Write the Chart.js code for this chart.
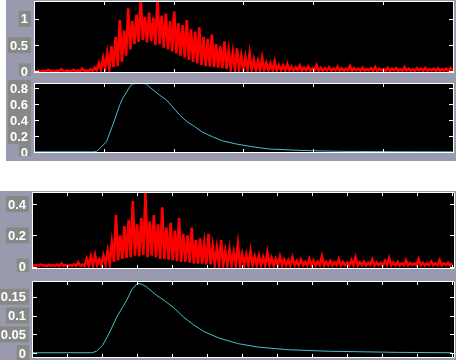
<!DOCTYPE html>
<html>
<head>
<meta charset="utf-8">
<script src="https://cdn.jsdelivr.net/npm/chart.js@4/dist/chart.umd.min.js"></script>
<style>
  html, body { margin: 0; padding: 0; background: #ffffff; }
  #wrap { position: relative; width: 456px; height: 360px; overflow: hidden; background: #ffffff; }
  .bg { position: absolute; background: #9a9aae; }
  canvas { position: absolute; left: 0; }
</style>
</head>
<body>
<div id="wrap">
  <div class="bg" style="left:6px;top:0;width:450px;height:161px"></div>
  <div class="bg" style="left:0;top:191px;width:456px;height:169px"></div>
  <canvas id="c1" width="456" height="76" style="top:0"></canvas>
  <canvas id="c2" width="456" height="78" style="top:78px"></canvas>
  <canvas id="c3" width="456" height="86" style="top:186px"></canvas>
  <canvas id="c4" width="456" height="86" style="top:274px"></canvas>
</div>
<script>
// ---- data ----
const sampleStep = 3; // x spacing of the raw noisy samples

const signalTop = [
0.01,0.00,0.02,0.00,0.01,0.00,0.01,0.03,0.00,0.01,0.00,0.02,0.00,0.04,0.01,0.00,0.02,0.00,0.01,0.03,
0.00,0.02,0.00,0.05,0.01,0.02,0.00,0.04,0.01,0.07,0.02,
0.16,0.03,0.25,0.05,0.34,0.04,0.48,0.08,0.66,0.10,0.98,0.18,0.78,0.30,1.20,0.42,0.96,0.52,1.08,
0.56,1.38,0.60,1.04,0.55,1.12,0.58,1.02,0.50,1.42,0.52,1.06,0.45,1.10,0.42,0.96,0.38,1.14,0.34,0.92,
0.30,0.88,0.26,0.98,0.22,0.80,0.18,0.76,0.15,0.84,0.12,0.66,0.10,0.62,0.09,0.70,0.08,0.52,0.07,0.48,
0.06,0.57,0.05,0.40,0.05,0.36,0.04,0.44,0.04,0.30,0.03,0.27,0.03,0.34,0.03,0.22,0.02,0.20,0.02,0.26,
0.02,0.16,0.02,0.15,0.02,0.19,0.01,0.12,0.02,0.11,0.01,
0.14,0.02,0.09,0.01,0.08,0.02,0.11,0.01,0.07,0.02,0.09,0.01,0.06,0.02,0.12,0.01,0.07,0.01,0.06,0.02,
0.08,0.01,0.05,0.02,0.09,0.01,0.06,0.01,0.05,0.02,0.10,0.01,0.06,0.02,0.05,0.01,0.07,0.01,0.04,0.02,
0.06,0.01,0.08,0.01,0.05,0.02,0.04,0.01,0.07,0.01,0.05,0.02,0.06,0.01,0.04,0.01,0.08,0.02,0.05,0.01,
0.04,0.01,0.06,0.02,0.05,0.01,0.07,0.01,0.04,0.02,0.05,0.01,0.06,0.01,0.04,0.02,0.05,0.01,0.06,0.02
];

const meanTopX = [0,40,84,90,94,104,113,123,127,137,141,151,161,166,180,190,199,209,219,230,241,256,270,290,313,337,370,399,447,523,600];
const meanTopY = [0.003,0.003,0.003,0.01,0.04,0.13,0.34,0.59,0.67,0.81,0.85,0.86,0.85,0.81,0.71,0.65,0.56,0.46,0.38,0.32,0.25,0.19,0.14,0.10,0.066,0.038,0.025,0.016,0.008,0.004,0.003];

const signalBottom = [
0.012,0.006,0.010,0.005,0.014,0.006,0.009,0.004,0.012,0.006,0.010,0.005,0.013,0.004,0.020,0.006,0.011,0.005,0.010,0.006,
0.015,0.005,0.028,0.006,0.012,0.005,0.050,0.007,0.065,0.008,
0.075,0.010,0.045,0.012,0.070,0.015,0.100,0.020,0.150,0.030,0.330,0.040,0.200,0.050,0.260,0.055,0.300,0.060,0.420,0.070,
0.270,0.065,0.310,0.075,0.470,0.060,0.290,0.070,0.330,0.060,0.270,0.050,0.380,0.050,0.250,0.045,0.280,0.040,0.230,0.035,
0.310,0.030,0.210,0.030,0.200,0.025,0.250,0.020,0.170,0.020,0.180,0.020,0.150,0.015,0.210,0.015,0.130,0.015,0.120,0.012,
0.170,0.012,0.100,0.010,0.110,0.010,0.090,0.010,0.140,0.010,0.080,0.010,0.075,0.010,0.100,0.010,0.065,0.008,0.070,0.010,
0.060,0.008,0.090,0.010,0.055,0.008,0.050,0.010,0.065,0.008,
0.045,0.010,0.040,0.008,0.060,0.010,0.035,0.008,0.045,0.010,0.030,0.008,0.050,0.010,0.038,0.008,0.032,0.010,0.065,0.008,
0.030,0.010,0.036,0.008,0.028,0.010,0.048,0.008,0.030,0.010,0.026,0.008,0.040,0.010,0.060,0.008,0.028,0.010,0.032,0.008,
0.025,0.010,0.045,0.008,0.027,0.010,0.024,0.008,0.035,0.010,0.055,0.008,0.026,0.010,0.030,0.008,0.022,0.010,0.040,0.008,
0.024,0.010,0.021,0.008,0.048,0.010,0.025,0.008,0.020,0.010,0.032,0.008,0.022,0.010,0.042,0.008,0.020,0.010,0.026,0.008,
0.020
];

const meanBottomX = [0,40,86,92,101,111,121,135,143,150,156,163,177,189,203,217,231,245,267,295,323,366,423,522,600];
const meanBottomY = [0.001,0.001,0.001,0.005,0.021,0.056,0.096,0.140,0.170,0.185,0.184,0.177,0.155,0.140,0.120,0.095,0.075,0.058,0.040,0.025,0.016,0.009,0.005,0.002,0.001];

const xTicksTop = [0,100,200,300,400,500,600];
const xTicksBottom = [0,50,100,150,200,250,300,350,400,450,500,550,600];
const yTicks1 = [0,0.5,1];       const yLabels1 = ['0','0.5','1'];
const yTicks2 = [0,0.2,0.4,0.6,0.8]; const yLabels2 = ['0','0.2','0.4','0.6','0.8'];
const yTicks3 = [0,0.2,0.4];     const yLabels3 = ['0','0.2','0.4'];
const yTicks4 = [0,0.05,0.1,0.15]; const yLabels4 = ['0','0.05','0.1','0.15'];

// ---- helpers ----
const toPoints = (arr) => arr.map((v, i) => ({ x: i * sampleStep, y: v }));
const zipPoints = (xs, ys) => xs.map((x, i) => ({ x: x, y: ys[i] }));

const matlabAxes = {
  id: 'matlabAxes',
  beforeDraw(chart) {
    const a = chart.chartArea, ctx = chart.ctx;
    ctx.save();
    ctx.fillStyle = '#000000';
    ctx.fillRect(a.left, a.top, a.right - a.left, a.bottom - a.top);
    ctx.restore();
  },
  afterDraw(chart, args, opts) {
    const a = chart.chartArea, ctx = chart.ctx;
    const xs = chart.scales.x, ys = chart.scales.y;
    ctx.save();
    ctx.strokeStyle = '#ffffff';
    ctx.lineWidth = 1;
    ctx.beginPath();
    ctx.rect(Math.round(a.left) + 0.5, Math.round(a.top) + 0.5, Math.round(a.right - a.left) - 1, Math.round(a.bottom - a.top) - 1);
    ctx.stroke();
    ctx.beginPath();
    opts.xTicks.forEach(v => {
      const px = Math.round(xs.getPixelForValue(v)) + 0.5;
      ctx.moveTo(px, a.top); ctx.lineTo(px, a.top + 4);
      ctx.moveTo(px, a.bottom); ctx.lineTo(px, a.bottom - 4);
    });
    opts.yTicks.forEach(v => {
      const py = Math.round(ys.getPixelForValue(v)) + 0.5;
      ctx.moveTo(a.left, py); ctx.lineTo(a.left + 5, py);
      ctx.moveTo(a.right, py); ctx.lineTo(a.right - 5, py);
    });
    ctx.stroke();
    ctx.font = 'bold 13px "Liberation Sans", Arial, sans-serif';
    ctx.textAlign = 'right';
    ctx.textBaseline = 'middle';
    opts.yTicks.forEach((v, i) => {
      const py = ys.getPixelForValue(v);
      const label = opts.yLabels[i];
      const w = ctx.measureText(label).width;
      const rx = a.left - 6;
      ctx.fillStyle = 'rgba(120,124,104,0.55)';
      ctx.fillRect(rx - w - 2, py - 8, w + 5, 16);
      ctx.fillStyle = '#ffffff';
      ctx.fillText(label, rx, py + 1);
    });
    ctx.restore();
  }
};

function makeChart(id, datasets, xMax, yMin, yMax, pad, xTicks, yTicks, yLabels) {
  return new Chart(document.getElementById(id), {
    type: 'line',
    data: { datasets: datasets },
    options: {
      responsive: false,
      animation: false,
      devicePixelRatio: 1,
      layout: { padding: pad },
      plugins: {
        legend: { display: false },
        tooltip: { enabled: false },
        matlabAxes: { xTicks: xTicks, yTicks: yTicks, yLabels: yLabels }
      },
      scales: {
        x: { type: 'linear', min: 0, max: xMax, display: false },
        y: { type: 'linear', min: yMin, max: yMax, display: false }
      },
      elements: { point: { radius: 0 }, line: { tension: 0 } }
    },
    plugins: [matlabAxes]
  });
}

const redLine = (arr) => ({ data: toPoints(arr), borderColor: '#ff0000', borderWidth: 2.6, pointRadius: 0, fill: false });
const cyanLine = (xs, ys) => ({ data: zipPoints(xs, ys), borderColor: '#4cbcd0', borderWidth: 1, pointRadius: 0, fill: false });

makeChart('c1', [redLine(signalTop)], 602, -0.03, 1.34, { left: 34, right: 2, top: 1, bottom: 3 }, xTicksTop, yTicks1, yLabels1);
makeChart('c2', [cyanLine(meanTopX, meanTopY)], 602, -0.012, 0.862, { left: 34, right: 2, top: 5, bottom: 3 }, xTicksTop, yTicks2, yLabels2);
makeChart('c3', [redLine(signalBottom)], 604, -0.015, 0.477, { left: 32, right: 1, top: 6, bottom: 3 }, xTicksBottom, yTicks3, yLabels3);
makeChart('c4', [cyanLine(meanBottomX, meanBottomY)], 604, -0.013, 0.192, { left: 32, right: 1, top: 7, bottom: 2 }, xTicksBottom, yTicks4, yLabels4);
</script>
</body>
</html>
